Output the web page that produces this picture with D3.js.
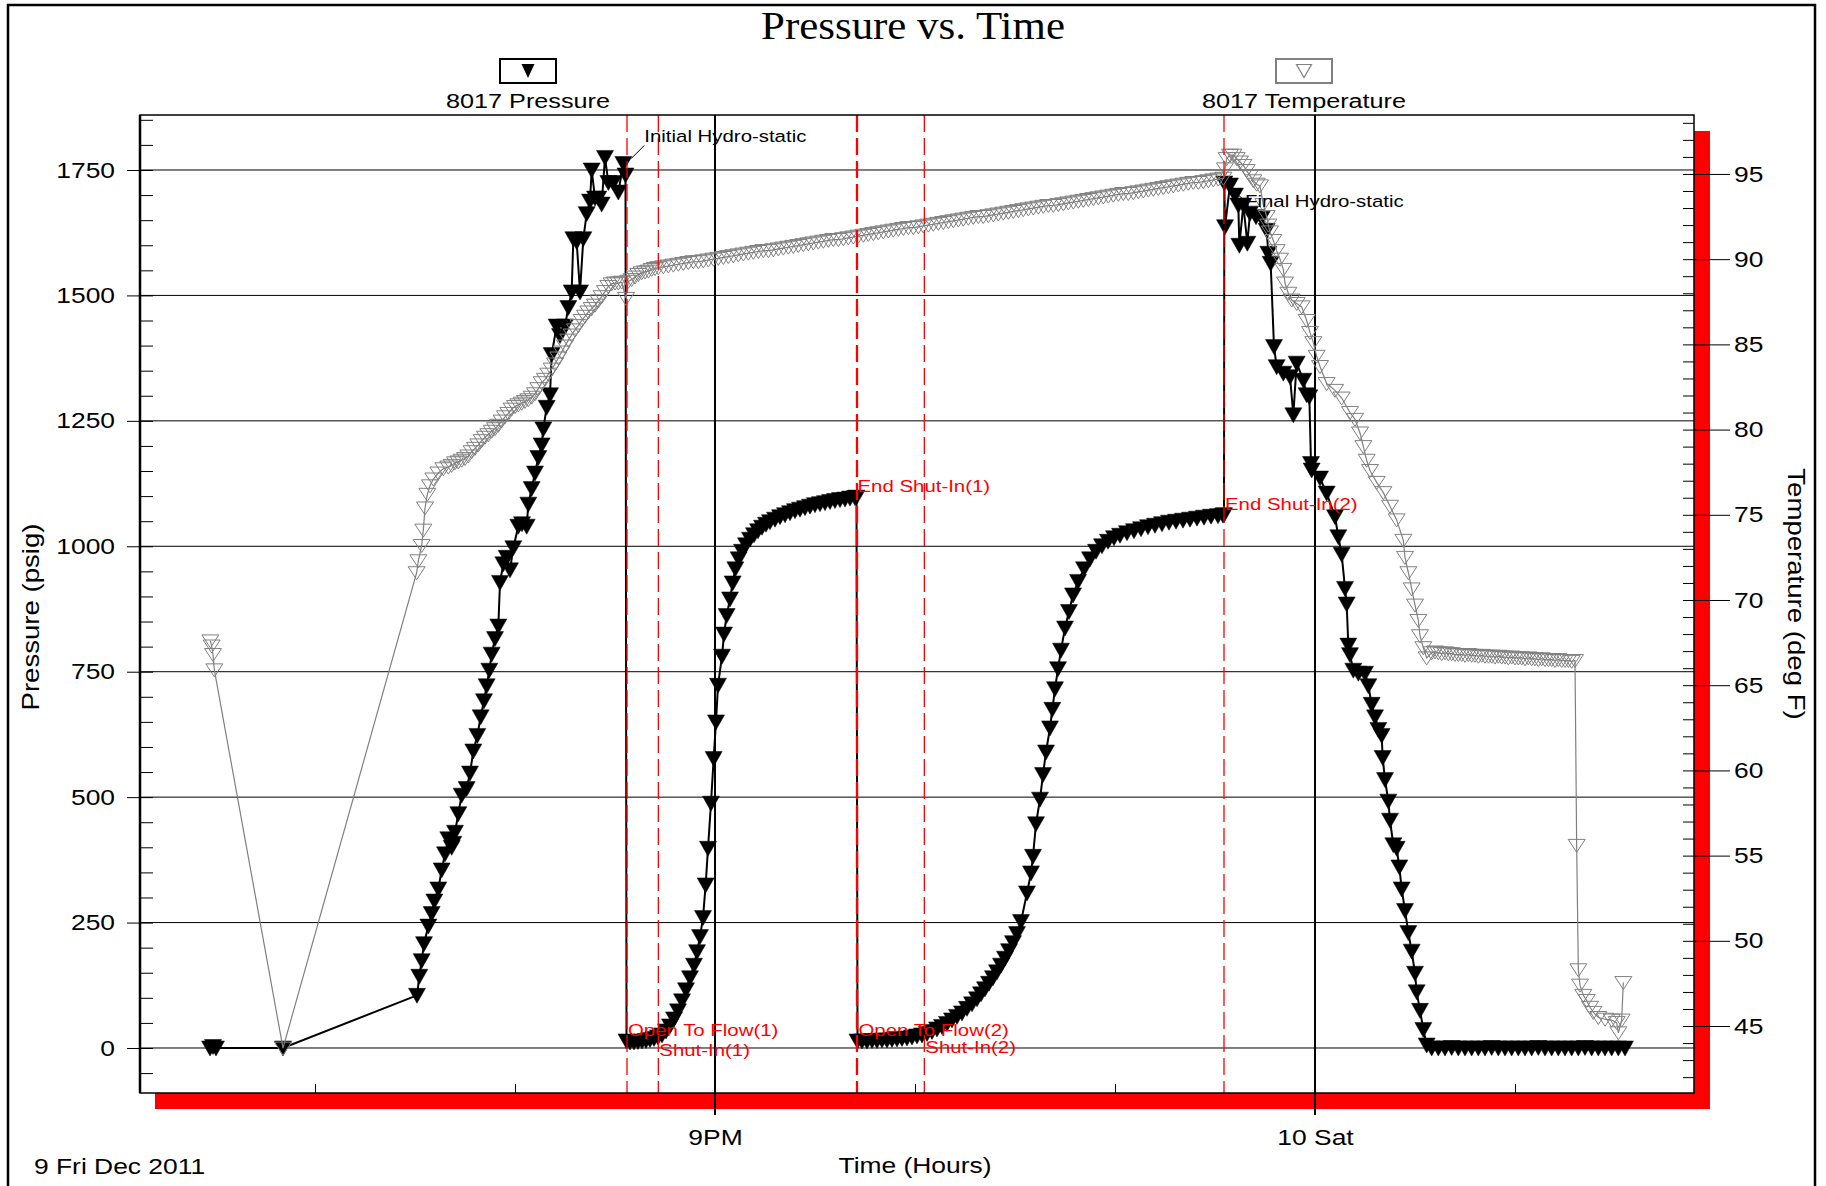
<!DOCTYPE html>
<html>
<head>
<meta charset="utf-8">
<title>Pressure vs. Time</title>
<style>
  * { margin: 0; padding: 0; }
  html, body { width: 100%; height: 100%; background: #fff; }
  svg { display: block; }
</style>
</head>
<body>
<script src="https://cdn.jsdelivr.net/npm/d3@7"></script>
<script>
// time is minutes after 6PM, Fri 9 Dec 2011
const pressure = [
  [28.5,0],[29.4,3],[30.3,0],[50.4,0],[90.6,105],[91.3,143],[92.0,174],[92.7,208],[94.0,243],[95.0,268],
  [95.8,293],[97.0,317],[98.0,355],[99.0,387],[100.0,417],[101.0,400],[101.5,408],[102.0,430],[103.0,467],[104.0,504],
  [105.5,517],[106.5,548],[107.5,592],[108.7,623],[109.7,660],[110.7,692],[111.5,722],[112.3,753],[113.0,785],[114.0,816],
  [115.0,841],[115.5,928],[116.5,965],[117.5,978],[118.5,953],[119.5,997],[121.0,1040],[122.1,1045],[123.5,1040],[124.0,1084],
  [125.0,1115],[126.0,1146],[127.0,1177],[128.0,1202],[128.5,1234],[129.5,1277],[130.5,1302],[131.0,1382],[132.5,1439],[133.5,1420],
  [135.0,1439],[136.0,1476],[137.0,1507],[137.5,1613],[138.5,1607],[139.5,1507],[140.5,1613],[141.5,1663],[142.5,1688],[143.0,1750],
  [144.0,1694],[145.0,1694],[146.0,1682],[147.0,1775],[148.0,1725],[149.5,1725],[151.0,1706],[152.5,1763],[153.15,1740],
  [153.45,14],[154.5,12],[155.7,12],[156.9,13],[158.1,14],[159.3,15],[160.5,17],[161.7,19],[162.9,22],
  [164.1,26],[165.3,34],[166.5,44],[167.7,58],[168.9,74],[170.1,94],[171.3,116],[172.5,140],[173.7,165],[174.6,192],
  [175.5,222],[176.4,260],[177.2,325],[177.9,398],[178.8,488],[179.6,577],[180.3,650],[180.9,723],[182.1,781],[182.7,825],
  [183.5,862],[184.5,895],[185.3,927],[186.1,955],[187.1,975],[188.1,990],[189.3,1003],[190.5,1014],[191.7,1023],[192.9,1031],
  [194.1,1038],[195.3,1044],[196.5,1049],[198.0,1054],[199.5,1059],[201.0,1063],[202.5,1067],[204.0,1071],[205.5,1074],[207.0,1077],
  [208.5,1080],[210.0,1083],[211.5,1085],[213.0,1087],[214.5,1089],[216.0,1091],[217.5,1093],[219.0,1094],[220.5,1096],[222.0,1097],
  [222.45,1098],
  [222.75,14],[224.1,14],[225.6,14],[227.1,15],[228.6,15],[230.1,16],[231.6,16],[233.1,17],[234.6,18],[236.1,19],
  [237.6,20],[239.1,22],[240.6,24],[242.1,26],
  [243.6,29],[245.1,33],[246.6,38],[248.1,43],[249.6,49],[251.1,56],[252.6,63],[254.1,70],[255.6,79],[257.1,88],
  [258.6,98],[259.8,108],[261.0,118],[262.2,129],[263.4,140],[264.6,152],[265.8,165],[267.0,179],[268.2,194],[269.4,210],
  [270.6,228],[271.8,252],[273.6,309],[274.8,349],[275.4,382],[276.3,447],[277.5,496],[278.4,545],[279.3,590],[280.5,638],
  [281.2,675],[282.0,716],[282.9,756],[283.8,793],[285.0,837],[286.2,870],[287.4,903],[288.9,930],[290.7,955],[292.5,975],
  [294.3,990],[296.1,1001],[297.9,1010],[299.7,1017],[301.5,1022],[303.6,1027],[305.7,1031],[307.8,1035],[309.9,1039],[312.0,1042],
  [314.1,1045],[316.2,1048],[318.3,1050],[320.4,1052],[322.5,1054],[324.6,1056],[326.7,1058],[328.8,1060],[330.9,1061],[332.4,1062],
  [332.7,1063],[332.8,1724],[333.0,1637],
  [334.5,1720],[336.0,1700],[337.0,1680],[337.3,1600],[338.5,1680],[339.7,1604],[340.5,1664],[342.3,1657],[344.0,1654],[345.5,1630],
  [346.0,1584],[346.7,1564],[347.7,1398],[348.5,1358],[350.5,1345],[352.5,1338],[353.5,1262],[354.5,1365],[356.5,1331],[357.5,1302],
  [358.3,1298],[358.8,1165],[359.0,1152],[361.5,1136],[363.5,1106],[366.0,1059],[367.0,1019],[368.0,984],[369.0,916],[369.5,885],
  [370.0,803],[370.5,784],[371.5,753],[373.0,747],[375.0,747],[376.0,722],[377.0,685],[378.0,660],[379.0,635],[380.0,623],
  [380.3,579],[381.0,535],[382.0,492],[382.5,454],[383.5,405],[384.5,398],[385.3,361],[386.0,317],[387.0,274],[388.0,230],
  [389.0,193],[390.0,149],[390.5,112],[391.5,75],[392.5,37],[393.5,6],
  [395,0],[397,0],[399,0],[401,1],[403,0],[405,0],[407,0],[409,0],[411,0],[413,1],
  [415,0],[417,0],[419,0],[421,0],[423,0],[425,0],[427,1],[429,0],[431,0],[433,0],
  [435,0],[437,0],[439,0],[441,1],[443,0],[445,0],[447,0],[449,0],[451,0],[453,0]
];

const temperature = [
  [28.6,67.6],[29.0,67.3],[29.4,66.8],[29.8,65.9],[50.4,43.7],
  [90.5,71.6],[91.0,72.3],[92.0,73.2],[92.5,74.1],[93.0,75.4],[93.7,76.2],[94.5,76.7],[95.5,77.1],[97.0,77.45],[98.5,77.7],
  [100.0,77.8],[101.0,77.9],[102.0,78.05],[103.0,78.1],[104.0,78.2],[105.0,78.3],[106.0,78.45],[107.0,78.7],[108.0,78.9],[109.0,79.1],
  [110.0,79.35],[111.0,79.55],[112.0,79.7],[113.0,79.9],[114.0,80.05],[115.0,80.25],[116.0,80.5],[117.0,80.75],[118.0,80.95],[119.0,81.2],
  [120.0,81.35],[121.0,81.45],[122.0,81.55],[123.0,81.65],[124.0,81.75],[125.0,81.9],[126.0,82.1],[127.0,82.4],[128.0,82.75],[129.0,82.95],
  [130.0,83.25],[131.0,83.55],[132.0,83.85],[133.0,84.2],[134.0,84.55],[135.0,84.9],[136.0,85.25],[137.0,85.55],[138.0,85.85],[139.0,86.1],
  [140.0,86.4],[141.0,86.65],[142.0,86.9],[143.0,87.1],[144.0,87.3],[145.0,87.55],[146.0,87.8],[147.0,88.1],[148.0,88.4],[149.0,88.55],
  [150.0,88.6],[151.0,88.6],[152.0,88.65],[153.3,87.7],[154.0,88.7],[155.0,88.8],[156.0,88.95],[157.0,89.1],[158.0,89.2],[159.0,89.25],
  [160.0,89.3],[161.0,89.4],[162.0,89.45],[163.0,89.5],
  [164.5,89.55],[166.0,89.6],[167.5,89.65],[169.0,89.7],[170.5,89.75],[172.0,89.8],[173.5,89.85],[175.0,89.85],[176.5,89.9],[178.0,89.95],
  [179.5,90.0],[181.0,90.05],[182.5,90.1],[184.0,90.15],[185.5,90.2],[187.0,90.25],[188.5,90.3],[190.0,90.35],[191.5,90.4],[193.0,90.45],
  [194.5,90.5],[196.0,90.5],[197.5,90.55],[199.0,90.6],[200.5,90.65],[202.0,90.7],[203.5,90.75],[205.0,90.8],[206.5,90.85],[208.0,90.9],
  [209.5,90.95],[211.0,91.0],[212.5,91.05],[214.0,91.1],[215.5,91.15],[217.0,91.15],[218.5,91.2],[220.0,91.25],[221.5,91.3],[223.0,91.35],
  [224.5,91.4],[226.0,91.45],[227.5,91.5],[229.0,91.55],[230.5,91.6],[232.0,91.65],[233.5,91.7],[235.0,91.75],[236.5,91.8],[238.0,91.85],
  [239.5,91.85],[241.0,91.9],[242.5,91.95],[244.0,92.0],[245.5,92.05],[247.0,92.1],[248.5,92.15],[250.0,92.2],[251.5,92.25],[253.0,92.3],
  [254.5,92.35],[256.0,92.4],[257.5,92.45],[259.0,92.5],[260.5,92.5],[262.0,92.55],[263.5,92.6],[265.0,92.65],[266.5,92.7],[268.0,92.75],
  [269.5,92.8],[271.0,92.85],[272.5,92.9],[274.0,92.95],[275.5,93.0],[277.0,93.05],[278.5,93.1],[280.0,93.15],[281.5,93.15],[283.0,93.2],
  [284.5,93.25],[286.0,93.3],[287.5,93.35],[289.0,93.4],[290.5,93.45],[292.0,93.5],[293.5,93.55],[295.0,93.6],[296.5,93.65],[298.0,93.7],
  [299.5,93.75],[301.0,93.8],[302.5,93.85],[304.0,93.85],[305.5,93.9],[307.0,93.95],[308.5,94.0],[310.0,94.05],[311.5,94.1],[313.0,94.15],
  [314.5,94.2],[316.0,94.25],[317.5,94.3],[319.0,94.35],[320.5,94.4],[322.0,94.45],[323.5,94.5],[325.0,94.5],[326.5,94.55],[328.0,94.6],
  [329.5,94.65],[331.0,94.7],[332.5,94.75],
  [333.0,95.3],[333.5,95.9],[334.5,96.1],[335.5,96.1],[336.5,95.9],[337.5,95.7],[338.5,95.5],[339.5,95.2],[340.5,94.9],[341.5,94.6],
  [342.5,94.4],[343.5,94.3],[344.5,93.2],[345.5,92.5],[346.0,92.0],[346.5,91.6],[347.5,91.1],[348.5,90.5],[349.5,90.0],[350.5,89.4],
  [351.0,88.6],[352.0,88.0],[353.0,87.6],[354.5,87.4],[356.0,87.2],[357.5,86.4],[358.5,85.7],[359.5,85.1],[360.5,84.3],[361.5,83.7],
  [363.5,82.7],[366.0,82.3],[368.0,81.85],[370.5,81.0],[372.0,80.6],[373.5,79.8],[374.5,79.0],[375.5,78.2],[376.5,77.6],[378.5,76.9],
  [380.5,76.3],[382.5,75.5],[384.5,74.7],[386.5,73.5],[387.0,72.5],[388.0,71.6],[389.0,70.65],[390.0,69.7],[391.0,68.8],[391.5,67.9],
  [392.5,67.2],[393.5,66.6],
  [395,66.9],[396,66.95],[397,66.9],[398,66.85],[399,66.9],[400,66.85],[401,66.85],[402,66.8],[403,66.8],[404,66.8],
  [405,66.75],[406,66.8],[407,66.75],[408,66.75],[409,66.7],[410,66.75],[411,66.7],[412,66.7],[413,66.7],[414,66.65],
  [415,66.7],[416,66.65],[417,66.65],[418,66.6],[419,66.65],[420,66.6],[421,66.6],[422,66.6],[423,66.55],[424,66.6],
  [425,66.55],[426,66.55],[427,66.5],[428,66.55],[429,66.5],[430,66.5],[431,66.5],[432,66.45],[433,66.5],[434,66.45],
  [435,66.45],[436,66.45],[437,66.4],[438,66.45],
  [438.5,55.6],[439.0,48.3],[439.5,47.4],[440.5,46.8],[441.5,46.5],[442.5,46.1],[443.5,45.8],[445.0,45.5],[447.0,45.4],[449.0,45.35],
  [450.5,45.2],[451.0,44.6],[452.0,45.35],[452.5,47.55]
];

const events = [
  { name: "Open To Flow(1)", t: 153.6, psi: 14 },
  { name: "Shut-In(1)", t: 163.0, psi: 22 },
  { name: "End Shut-In(1)", t: 222.45, psi: 1098 },
  { name: "Open To Flow(2)", t: 222.75, psi: 14 },
  { name: "Shut-In(2)", t: 242.8, psi: 27 },
  { name: "End Shut-In(2)", t: 332.7, psi: 1062 }
];
const hydro = [
  { name: "Initial Hydro-static", t: 152.5, psi: 1763 },
  { name: "Final Hydro-static", t: 334.5, psi: 1720 }
];

const psiTicks = [0, 250, 500, 750, 1000, 1250, 1500, 1750];
const degTicks = [45, 50, 55, 60, 65, 70, 75, 80, 85, 90, 95];
const hourMinutes = [180, 360];
const hourLabels = ["9PM", "10 Sat"];
const seriesNames = ["8017 Pressure", "8017 Temperature"];

var width = 1826, height = 1186;
var plot = { left: 140, right: 1694, top: 115, bottom: 1093 };
var sans = "'Liberation Sans', Arial, sans-serif";
var gray = "#808080";

const t0 = new Date(2011, 11, 9, 18, 0, 0);
const toDate = m => new Date(+t0 + m * 60000);

var x = d3.scaleTime()
  .domain([toDate(7.5), toDate(473.7)])
  .range([plot.left, plot.right]);
var yP = d3.scaleLinear().domain([-89.7, 1859.6]).range([plot.bottom, plot.top]);
var yT = d3.scaleLinear().domain([41.07, 98.46]).range([plot.bottom, plot.top]);

const svg = d3.select("body").append("svg")
  .attr("width", width).attr("height", height);

// text a bit wider than the font, like the original render
function put(parent, str, px, py, o) {
  o = o || {};
  return parent.append("text")
    .attr("transform", `translate(${px},${py})` + (o.rotate ? ` rotate(${o.rotate})` : "") + ` scale(${o.sx || 1.2},1)`)
    .attr("text-anchor", o.anchor || "start")
    .attr("font-family", o.family || sans)
    .attr("font-size", o.size || 22)
    .attr("fill", o.fill || "#000")
    .text(str);
}

// outer frame
svg.append("rect").attr("x", 8).attr("y", 5).attr("width", 1807).attr("height", 1210)
  .attr("fill", "none").attr("stroke", "#000").attr("stroke-width", 2.5);

// title + legend
put(svg, "Pressure vs. Time", 913, 39, { anchor: "middle", family: "'Liberation Serif', 'Times New Roman', serif", size: 39, sx: 1.1 });

svg.append("rect").attr("x", 500).attr("y", 59).attr("width", 56).attr("height", 24)
  .attr("fill", "#fff").attr("stroke", "#000").attr("stroke-width", 2);
svg.append("path").attr("d", "M-6.5,-7L6.5,-7L0,7Z").attr("transform", "translate(528,71)").attr("fill", "#000");
put(svg, seriesNames[0], 528, 108, { anchor: "middle", size: 21 });

svg.append("rect").attr("x", 1276).attr("y", 59).attr("width", 56).attr("height", 24)
  .attr("fill", "#fff").attr("stroke", gray).attr("stroke-width", 2);
svg.append("path").attr("d", "M-7.5,-6.5L7.5,-6.5L0,6.5Z").attr("transform", "translate(1304,71)")
  .attr("fill", "none").attr("stroke", gray).attr("stroke-width", 1.2);
put(svg, seriesNames[1], 1304, 108, { anchor: "middle", size: 21 });

// red shadow behind plot
svg.append("rect").attr("x", plot.left + 15).attr("y", plot.top + 16)
  .attr("width", plot.right - plot.left + 1).attr("height", plot.bottom - plot.top)
  .attr("fill", "#ff0000");
svg.append("rect").attr("x", plot.left).attr("y", plot.top)
  .attr("width", plot.right - plot.left).attr("height", plot.bottom - plot.top)
  .attr("fill", "#fff");

// grid
svg.append("g").selectAll("line").data(psiTicks).join("line")
  .attr("x1", plot.left).attr("x2", plot.right)
  .attr("y1", d => yP(d)).attr("y2", d => yP(d))
  .attr("stroke", "#000").attr("stroke-width", 1);

svg.append("g").selectAll("line").data(hourMinutes).join("line")
  .attr("x1", d => x(toDate(d))).attr("x2", d => x(toDate(d)))
  .attr("y1", plot.top).attr("y2", plot.bottom + 22)
  .attr("stroke", "#000").attr("stroke-width", 2);

// pressure
var triP = "M-8.5,-7L8.5,-7L0,8Z";
var triT = "M-8.5,-6L8.5,-6L0,7Z";

svg.append("path").datum(pressure)
  .attr("fill", "none").attr("stroke", "#000").attr("stroke-width", 2)
  .attr("d", d3.line().x(d => x(toDate(d[0]))).y(d => yP(d[1])));
svg.append("g").selectAll("path").data(pressure).join("path")
  .attr("d", triP)
  .attr("transform", d => `translate(${x(toDate(d[0]))},${yP(d[1])})`)
  .attr("fill", "#000").attr("stroke", "#000").attr("stroke-width", 0.5);

// temperature
svg.append("path").datum(temperature)
  .attr("fill", "none").attr("stroke", gray).attr("stroke-width", 1.2)
  .attr("d", d3.line().x(d => x(toDate(d[0]))).y(d => yT(d[1])));
svg.append("g").selectAll("path").data(temperature).join("path")
  .attr("d", triT)
  .attr("transform", d => `translate(${x(toDate(d[0]))},${yT(d[1])})`)
  .attr("fill", "none").attr("stroke", gray).attr("stroke-width", 1);

// event lines + labels
svg.append("g").selectAll("line").data(events).join("line")
  .attr("x1", d => x(toDate(d.t))).attr("x2", d => x(toDate(d.t)))
  .attr("y1", plot.top).attr("y2", plot.bottom)
  .attr("stroke", "#ff0000").attr("stroke-width", 1.3)
  .attr("stroke-dasharray", "17,6");

events.forEach(e => {
  var dy = e.name.startsWith("Shut") ? 19 : -5;
  put(svg, e.name, x(toDate(e.t)) + 1, yP(e.psi) + dy, { size: 17, fill: "#ff0000" });
});

// hydrostatic callouts
var h0 = hydro[0], hx0 = x(toDate(h0.t)), hy0 = yP(h0.psi);
svg.append("line").attr("x1", hx0 + 8).attr("y1", hy0 - 5).attr("x2", hx0 + 21).attr("y2", hy0 - 18)
  .attr("stroke", "#000").attr("stroke-width", 1);
put(svg, h0.name, hx0 + 21, hy0 - 21, { size: 17 });

var h1 = hydro[1], hx1 = x(toDate(h1.t)), hy1 = yP(h1.psi);
svg.append("line").attr("x1", hx1 + 4).attr("y1", hy1 + 6).attr("x2", hx1 + 15).attr("y2", hy1 + 16)
  .attr("stroke", "#000").attr("stroke-width", 1);
put(svg, h1.name, hx1 + 15, hy1 + 22, { size: 17 });

// plot frame
svg.append("rect").attr("x", plot.left).attr("y", plot.top)
  .attr("width", plot.right - plot.left).attr("height", plot.bottom - plot.top)
  .attr("fill", "none").attr("stroke", "#000").attr("stroke-width", 1.5);
svg.append("line").attr("x1", plot.left).attr("x2", plot.left)
  .attr("y1", plot.top).attr("y2", plot.bottom).attr("stroke", "#000").attr("stroke-width", 2.5);

// left axis
var gl = svg.append("g").attr("transform", `translate(${plot.left},0)`)
  .call(d3.axisLeft(yP).tickValues(psiTicks).tickSize(13).tickSizeOuter(0).tickFormat(d3.format("d")))
  .attr("font-family", sans).attr("font-size", 22);
gl.select(".domain").remove();
gl.selectAll(".tick text").attr("x", null).attr("transform", "translate(-25,0) scale(1.2,1)").attr("fill", "#000");

svg.append("g").attr("transform", `translate(${plot.left},0)`)
  .call(d3.axisLeft(yP).tickValues(d3.range(-50, 1851, 50)).tickSize(-13).tickFormat(""))
  .call(g => g.select(".domain").remove());

// right axis
var gr = svg.append("g").attr("transform", `translate(${plot.right},0)`)
  .call(d3.axisRight(yT).tickValues(degTicks).tickSize(36).tickSizeOuter(0))
  .attr("font-family", sans).attr("font-size", 22);
gr.select(".domain").remove();
gr.selectAll(".tick text").attr("x", null).attr("transform", "translate(40,0) scale(1.2,1)").attr("fill", "#000");

svg.append("g").attr("transform", `translate(${plot.right},0)`)
  .call(d3.axisRight(yT).tickValues(d3.range(42, 99, 1)).tickSize(-11).tickFormat(""))
  .call(g => g.select(".domain").remove());

// bottom axis
svg.append("g").attr("transform", `translate(0,${plot.bottom})`)
  .call(d3.axisBottom(x).ticks(d3.timeHour.every(1)).tickSize(-9).tickFormat(""))
  .call(g => g.select(".domain").remove());

var gb = svg.append("g").attr("transform", `translate(0,${plot.bottom})`)
  .call(d3.axisBottom(x).tickValues(hourMinutes.map(toDate)).tickSize(22).tickPadding(14)
    .tickFormat((d, i) => hourLabels[i]))
  .attr("font-family", sans).attr("font-size", 22);
gb.select(".domain").remove();
gb.selectAll(".tick line").remove();
gb.selectAll(".tick text").attr("transform", "scale(1.2,1)").attr("fill", "#000");

// axis titles
put(svg, "Pressure (psig)", 39, 617, { anchor: "middle", rotate: -90, size: 23 });
put(svg, "Temperature (deg F)", 1788, 594, { anchor: "middle", rotate: 90, size: 23 });
put(svg, "Time (Hours)", 915, 1173, { anchor: "middle", size: 22 });
put(svg, d3.timeFormat("%-d %a %b %Y")(t0), 34, 1174, { size: 22 });
</script>
</body>
</html>
